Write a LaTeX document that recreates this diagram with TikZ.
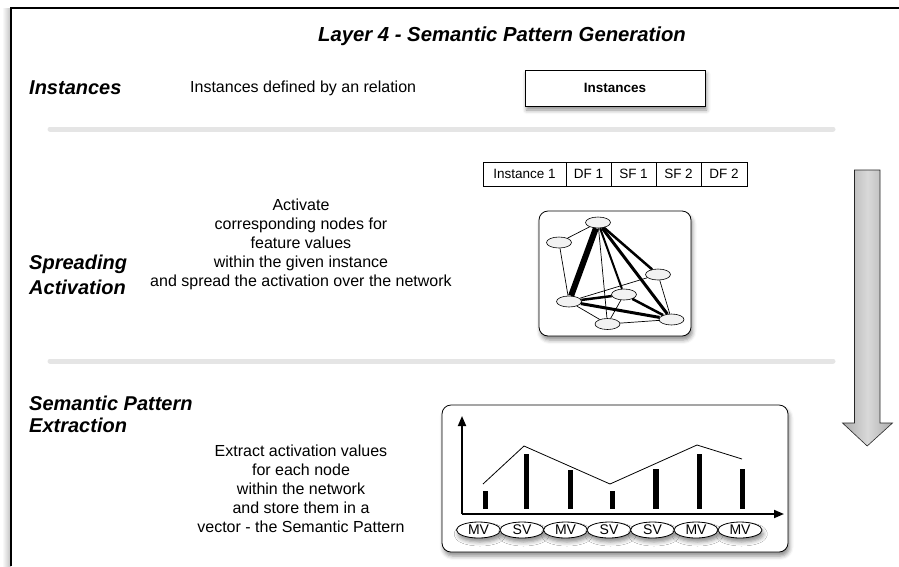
\documentclass[tikz,border=0pt]{standalone}
\usepackage{fontspec}
\setmainfont{Liberation Sans}
\usetikzlibrary{positioning,shapes.geometric,arrows.meta,shadows.blur,backgrounds}

\begin{document}
\begin{tikzpicture}[x=1pt,y=-1pt,
	heading/.style={font=\fontsize{20}{25}\selectfont\bfseries\itshape, align=left, anchor=west, inner sep=0pt},
	desc/.style={font=\fontsize{16}{19}\selectfont, align=center, inner sep=0pt},
	cell/.style={draw, line width=0.8pt, fill=white, minimum height=24pt, inner sep=0pt, outer sep=0pt, font=\fontsize{13.5}{15}\selectfont},
	soft/.style={blur shadow={shadow xshift=1.5pt, shadow yshift=-4pt, shadow blur radius=4pt, shadow opacity=45}},
	panel/.style={draw, line width=0.8pt, rounded corners=9pt, fill=white, soft},
	act/.style={ellipse, draw, line width=0.6pt, fill=gray!10, minimum width=25pt, minimum height=11pt, inner sep=0pt},
	lbl/.style={ellipse, draw, line width=0.8pt, fill=white, minimum width=44pt, minimum height=16pt, inner sep=0pt, font=\fontsize{14}{15}\selectfont, soft},
	sep/.style={line width=5pt, gray!20, line cap=round},
	axis/.style={line width=1.8pt, -{Triangle[length=10pt,width=8pt]}},
	bar/.style={line width=5.5pt}]
	\useasboundingbox (0,0) rectangle (899,566);
	\shade[left color=white, right color=gray!50] (2,8) rectangle (11,566);
	\draw[line width=1.5pt] (11,566) -- (11,8) -- (899,8);
	\node[font=\fontsize{20.3}{24}\selectfont\bfseries\itshape] (title) at (502,36) {Layer 4 - Semantic Pattern Generation};
	\node[heading] (hinst) at (29,88) {Instances};
	\node[desc, anchor=west] (dinst) at (190,88) {Instances defined by an relation};
	\node[draw, line width=0.9pt, fill=white, minimum width=180pt, minimum height=36pt, font=\fontsize{13.5}{15}\selectfont\bfseries, soft] (inst) at (615,88) {Instances};
	\draw[sep] (50,129) -- (833,129);
	\node[cell, minimum width=83pt] (c1) at (524.5,174) {Instance 1};
	\node[cell, minimum width=45pt, right=0pt of c1] (c2) {DF 1};
	\node[cell, minimum width=45pt, right=0pt of c2] (c3) {SF 1};
	\node[cell, minimum width=45pt, right=0pt of c3] (c4) {SF 2};
	\node[cell, minimum width=46pt, right=0pt of c4] (c5) {DF 2};
	\begin{scope}[on background layer]
		\path[fill=white, soft] (c1.north west) rectangle (c5.south east);
	\end{scope}
	\node[heading] (hspread) at (29,274.5) {Spreading\\Activation};
	\node[desc] (dspread) at (301,244) {Activate\\corresponding nodes for\\feature values\\within the given instance\\and spread the activation over the network};
	\node[panel, minimum width=152pt, minimum height=125pt] (net) at (615,273.5) {};
	\node[act] (a1) at (598,222.5) {};
	\node[act] (a2) at (559,242.5) {};
	\node[act] (a3) at (658,274.5) {};
	\node[act] (a4) at (624,294.5) {};
	\node[act] (a5) at (569,301.5) {};
	\node[act] (a6) at (607.5,324) {};
	\node[act] (a7) at (671.5,319.5) {};
	\path[draw, line width=0.7pt]
	(a1) edge (a2)
	(a2) edge (a5)
	(a1) edge (a6)
	(a5) edge (a3)
	(a5) edge (a6)
	(a4) edge (a6)
	(a3) edge (a7)
	(a6) edge (a7);
	\path[draw]
	(a1) edge [line width=6pt] (a5)
	(a1) edge [line width=2pt] (a4)
	(a1) edge [line width=2.5pt] (a3)
	(a1) edge [line width=3pt] (a7)
	(a5) edge [line width=2.5pt] (a4)
	(a5) edge [line width=3pt] (a7)
	(a4) edge [line width=2.5pt] (a7);
	\draw[sep] (50,361) -- (833,361);
	\shade[left color=gray!65, right color=gray!65, middle color=gray!30, draw=gray!30!black, line width=0.6pt]
	(854.5,170) -- (880,170) -- (880,423) -- (892.5,423) -- (867.2,446) -- (842.5,423) -- (854.5,423) -- cycle;
	\node[heading, font=\fontsize{20}{22}\selectfont\bfseries\itshape] (hsem) at (29,414) {Semantic Pattern\\Extraction};
	\node[desc] (dsem) at (301,488.5) {Extract activation values\\for each node\\within the network\\and store them in a\\vector - the Semantic Pattern};
	\node[panel, minimum width=346pt, minimum height=147pt] (chart) at (615,478.5) {};
	\coordinate (o) at (462,514);
	\coordinate (ytip) at (462,416);
	\coordinate (xtip) at (784,514);
	\draw[axis] (o) -- (ytip);
	\draw[axis] (o) -- (xtip);
	\foreach \x/\h in {485.5/490.5, 526.5/453.5, 570.5/470, 612.5/490.5, 656/469, 699.5/453.5, 742.5/469}
		\draw[bar] (\x,508.5) -- (\x,\h);
	\draw[line width=0.8pt] (483,484) -- (524,446) -- (610,484) -- (697,445) -- (742,459);
	\foreach \x/\t [count=\i] in {478.5/MV, 522/SV, 565.5/MV, 609/SV, 652.5/SV, 696/MV, 740/MV}
		\node[lbl] (v\i) at (\x,530) {\t};
\end{tikzpicture}
\end{document}
